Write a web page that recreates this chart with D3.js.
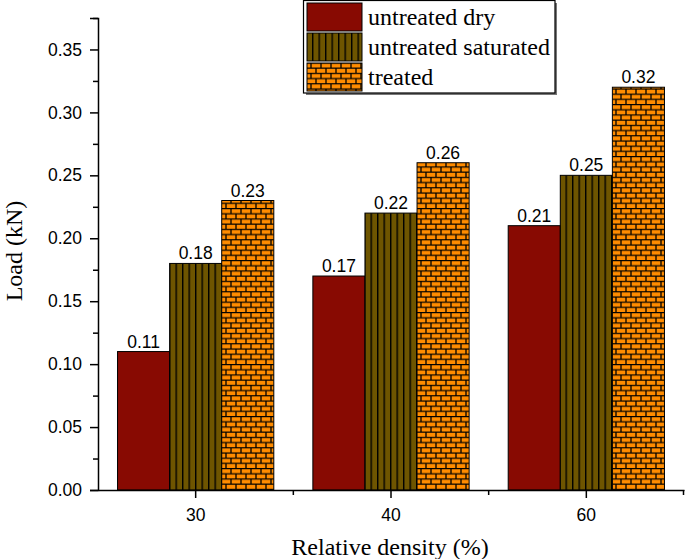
<!DOCTYPE html>
<html><head><meta charset="utf-8">
<script src="https://cdn.jsdelivr.net/npm/d3@7"></script>
<style>body{margin:0;background:#fff}svg{display:block}</style>
</head><body>
<svg id="c" width="685" height="559"></svg>
<script>
const categories = ["30", "40", "60"];
const seriesNames = ["untreated dry", "untreated saturated", "treated"];
const untreatedDry = [0.11, 0.17, 0.21];
const untreatedSaturated = [0.18, 0.22, 0.25];
const treated = [0.23, 0.26, 0.32];
const yTicks = [0, 0.05, 0.10, 0.15, 0.20, 0.25, 0.30, 0.35];
const yMinorTicks = [0.025, 0.075, 0.125, 0.175, 0.225, 0.275, 0.325, 0.375];

const seriesValues = [untreatedDry, untreatedSaturated, treated];
const svg = d3.select("#c");
const m = {l: 98, r: 1, t: 18, b: 69};
const W = 685, H = 559;
const x0 = d3.scaleBand().domain(categories).range([m.l, W - m.r]).paddingInner(0).paddingOuter(0);
const x1 = d3.scaleBand().domain(seriesNames).range([0, x0.bandwidth()]).paddingOuter(0.375).paddingInner(0);
const y = d3.scaleLinear().domain([0, 0.375]).range([H - m.b, m.t]);

const defs = svg.append("defs");
// vertical stripes
const ps = defs.append("pattern").attr("id", "stripes").attr("patternUnits", "userSpaceOnUse")
  .attr("width", 6.5).attr("height", 10);
ps.append("rect").attr("width", 6.5).attr("height", 10).attr("fill", "#6e5500");
ps.append("line").attr("x1", 0.7).attr("x2", 0.7).attr("y1", 0).attr("y2", 10).attr("stroke", "#000").attr("stroke-width", 1.4);
// bricks
const bw = 10, bh = 5.2;
const pb = defs.append("pattern").attr("id", "bricks").attr("patternUnits", "userSpaceOnUse")
  .attr("width", bw).attr("height", bh * 2);
pb.append("rect").attr("width", bw).attr("height", bh * 2).attr("fill", "#ff8c00");
pb.append("path").attr("d", `M0,0.6H${bw}M0,${bh + 0.6}H${bw}M1,0V${bh}M${bw / 2 + 1},${bh}V${bh * 2}`)
  .attr("stroke", "#000").attr("stroke-width", 1.3).attr("fill", "none");

const fills = ["#880a02", "url(#stripes)", "url(#bricks)"];
const sans = "Liberation Sans, Arial, sans-serif";
const serif = "Liberation Serif, Times New Roman, serif";

// bars
const g = svg.append("g");
categories.forEach((c, ci) => {
  seriesNames.forEach((s, si) => {
    const v = seriesValues[si][ci];
    const bx = x0(c) + x1(s);
    g.append("rect").attr("x", bx).attr("y", y(v)).attr("width", x1.bandwidth()).attr("height", y(0) - y(v))
      .attr("fill", fills[si]).attr("stroke", "#000").attr("stroke-width", 1);
    g.append("text").attr("x", bx + x1.bandwidth() / 2).attr("y", y(v) - 4)
      .attr("text-anchor", "middle").attr("font-family", sans)
      .attr("font-size", 17.5).text(v.toFixed(2));
  });
});

// y axis
const yAxis = svg.append("g").attr("transform", `translate(${m.l},0)`)
  .call(d3.axisLeft(y).tickValues(yTicks).tickFormat(d3.format(".2f")).tickSize(8).tickPadding(8));
svg.append("g").attr("transform", `translate(${m.l},0)`)
  .call(d3.axisLeft(y).tickValues(yMinorTicks).tickFormat("").tickSize(5)).select(".domain").remove();
yAxis.selectAll("text").attr("font-family", sans).attr("font-size", 17.5).attr("fill", "#000");

// x axis
const xAxis = svg.append("g").attr("transform", `translate(0,${y(0)})`)
  .call(d3.axisBottom(x0).tickSize(8).tickPadding(11).tickSizeOuter(0));
xAxis.selectAll("text").attr("font-family", sans).attr("font-size", 17.5).attr("fill", "#000");
const boundaries = categories.slice(1).map(c => x0(c)).concat([x0(categories[categories.length - 1]) + x0.bandwidth() - 0.5]);
svg.append("g").selectAll("line").data(boundaries).join("line")
  .attr("x1", d => d).attr("x2", d => d).attr("y1", y(0)).attr("y2", y(0) + 5)
  .attr("stroke", "#000").attr("stroke-width", 1.5);
svg.selectAll(".domain, .tick line").attr("stroke-width", 1.5);

// axis titles
svg.append("text").attr("x", (m.l + W - m.r) / 2 - 1).attr("y", 555).attr("text-anchor", "middle")
  .attr("font-family", serif).attr("font-size", 24).text("Relative density (%)");
svg.append("text").attr("transform", `translate(22,251) rotate(-90)`).attr("text-anchor", "middle")
  .attr("font-family", serif).attr("font-size", 24).text("Load (kN)");

// legend
const lg = svg.append("g");
lg.append("rect").attr("x", 306).attr("y", 3).attr("width", 251).attr("height", 92).attr("fill", "#777");
lg.append("rect").attr("x", 303.5).attr("y", 0.5).attr("width", 251.5).attr("height", 92.5)
  .attr("fill", "#fff").attr("stroke", "#000").attr("stroke-width", 1.2);
seriesNames.forEach((s, i) => {
  const yy = 3 + i * 30;
  lg.append("rect").attr("x", 307).attr("y", yy).attr("width", 55).attr("height", 28)
    .attr("fill", fills[i]).attr("stroke", "#000").attr("stroke-width", 1);
  lg.append("text").attr("x", 368).attr("y", yy + 22).attr("font-family", serif)
    .attr("font-size", 24).text(s);
});
</script>
</body></html>
